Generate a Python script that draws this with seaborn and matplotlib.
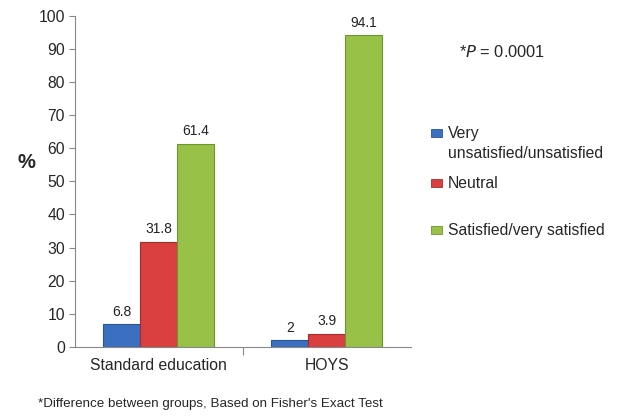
import matplotlib
matplotlib.use("Agg")
from matplotlib import pyplot as plt
from matplotlib.patches import Rectangle
import pandas as pd
import seaborn as sns

groups = ['Standard education', 'HOYS']
categories = ['Very unsatisfied/unsatisfied', 'Neutral', 'Satisfied/very satisfied']
legend_labels = ['Very\nunsatisfied/unsatisfied', 'Neutral', 'Satisfied/very satisfied']
std_vals = [6.8, 31.8, 61.4]
hoys_vals = [2, 3.9, 94.1]
colors = ['#3b6fbf', '#d9403f', '#97c247']
edges = ['#2a5393', '#a82c2c', '#6f9330']

df = pd.DataFrame({
    'group': [groups[0]] * 3 + [groups[1]] * 3,
    'cat': categories * 2,
    'val': std_vals + hoys_vals,
})

sns.set_style('white')
plt.rcParams['font.family'] = ['Liberation Sans', 'DejaVu Sans']

W, H = 618, 416
fig = plt.figure(figsize=(W / 100, H / 100), dpi=100)
ax = fig.add_axes([0.121, 0.166, 0.544, 0.796])
sns.barplot(data=df, x='group', y='val', hue='cat', hue_order=categories,
            palette=colors, width=0.66, gap=0, saturation=1, ax=ax, legend=False)

for cont, ec in zip(ax.containers, edges):
    for b in cont:
        b.set_edgecolor(ec)
        b.set_linewidth(0.8)
    ax.bar_label(cont, labels=[f'{v:g}' for v in cont.datavalues], padding=4, fontsize=10, color='#222222')

ax.set_ylim(0, 100)
ax.set_yticks(range(0, 101, 10))
ax.set_xlim(-0.5, 1.5)
ax.set_xlabel('')
ax.set_ylabel('')
for s in ['top', 'right']:
    ax.spines[s].set_visible(False)
for s in ['left', 'bottom']:
    ax.spines[s].set_color('#888888')
ax.tick_params(axis='y', length=4, color='#888888', labelsize=11.3, left=True, pad=3)
ax.tick_params(axis='x', length=0, labelsize=11.3, pad=8)
ax.set_xticks([0, 1], groups)
ax.vlines(0.5, -2.5, 0, colors='#888888', lw=0.8, clip_on=False)

fig.text(0.042, 0.61, '%', fontsize=14.5, fontweight='bold', ha='center', va='center')
fig.text(0.742, 0.875, r'*$\it{P}$ = 0.0001', fontsize=11.8, va='center')
fig.text(0.061, 0.028, "*Difference between groups, Based on Fisher's Exact Test", fontsize=9.6, va='center')

# legend drawn by hand so the marker sits next to the first line
leg_y = [133, 183, 230]
for lab, c, e, y in zip(legend_labels, colors, edges, leg_y):
    fig.patches.append(Rectangle((431 / W, 1 - (y + 4) / H), 11 / W, 8 / H,
                                 facecolor=c, edgecolor=e, lw=0.6, transform=fig.transFigure))
    fig.text(448 / W, 1 - (y - 7) / H, lab, fontsize=11.3, va='top', ha='left', linespacing=1.4)

fig.savefig('out.png', dpi=100)
